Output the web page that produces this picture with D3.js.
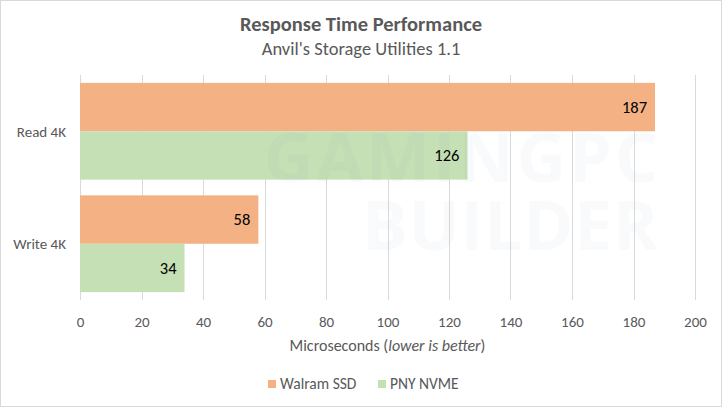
<!DOCTYPE html>
<meta charset="utf-8">
<style>
body { margin: 0; background: #fff; }
text { font-family: Carlito, "Liberation Sans Narrow", "Open Sans", sans-serif; fill: #595959; }
.grid line { stroke: #d9d9d9; }
</style>
<svg width="722" height="407"></svg>
<script src="https://d3js.org/d3.v7.min.js"></script>
<script>

var categories = ["Read 4K", "Write 4K"];
var seriesNames = ["Walram SSD", "PNY NVME"];
var walram = [187, 58];
var pny = [126, 34];
var xTicks = [0, 20, 40, 60, 80, 100, 120, 140, 160, 180, 200];
var colors = ["#f4b183", "#c5e0b4"];

var svg = d3.select("svg"),
    width = +svg.attr("width"),
    height = +svg.attr("height");

// chart border
svg.append("rect")
  .attr("x", 0.5).attr("y", 0.5)
  .attr("width", width - 1).attr("height", height - 1)
  .attr("fill", "#fff").attr("stroke", "#d9d9d9");

var plotTop = 75, plotBottom = 300, plotLeft = 80, plotRight = 695;

var x = d3.scaleLinear().domain([0, 200]).range([plotLeft, plotRight]);
var y = d3.scaleBand().domain(categories).range([plotTop, plotBottom])
  .paddingInner(0.14).paddingOuter(0.07);
var ySub = d3.scaleBand().domain(seriesNames).range([0, y.bandwidth()]);

// gridlines
svg.append("g").attr("class", "grid")
  .selectAll("line").data(xTicks).join("line")
  .attr("x1", d => Math.round(x(d)) + 0.5).attr("x2", d => Math.round(x(d)) + 0.5)
  .attr("y1", plotTop).attr("y2", plotBottom);

// title
svg.append("text").attr("x", width / 2).attr("y", 31)
  .attr("text-anchor", "middle").style("font-size", "20.5px").style("font-weight", "bold")
  .text("Response Time Performance");
svg.append("text").attr("x", width / 2).attr("y", 55)
  .attr("text-anchor", "middle").style("font-size", "18.5px")
  .text("Anvil's Storage Utilities 1.1");

var rows = categories.map(function(c, i) {
  return [{cat: c, s: seriesNames[0], v: walram[i]}, {cat: c, s: seriesNames[1], v: pny[i]}];
});
var flat = rows.flat();

svg.append("g").selectAll("rect").data(flat).join("rect")
  .attr("x", x(0))
  .attr("y", d => y(d.cat) + ySub(d.s))
  .attr("width", d => x(d.v) - x(0))
  .attr("height", ySub.bandwidth())
  .attr("fill", d => colors[seriesNames.indexOf(d.s)]);

// watermark
var wm = svg.append("g").style("pointer-events", "none");
wm.append("text").attr("x", 461).attr("y", 182).attr("text-anchor", "middle")
  .style("font-family", "'Open Sans', sans-serif").style("font-weight", "bold").style("font-size", "68px")
  .style("fill", "#7c93bf").style("fill-opacity", 0.045).attr("textLength", 394)
  .text("GAMINGPC");
wm.append("text").attr("x", 510).attr("y", 250).attr("text-anchor", "middle")
  .style("font-family", "'Open Sans', sans-serif").style("font-weight", "bold").style("font-size", "68px")
  .style("fill", "#7c93bf").style("fill-opacity", 0.045).attr("textLength", 296)
  .text("BUILDER");

// data labels
svg.append("g").selectAll("text").data(flat).join("text")
  .attr("x", d => x(d.v) - 8)
  .attr("y", d => y(d.cat) + ySub(d.s) + ySub.bandwidth() / 2)
  .attr("dy", "0.35em").attr("text-anchor", "end")
  .style("font-size", "16.5px").style("fill", "#000")
  .text(d => d.v);

// category axis
svg.append("g").selectAll("text").data(categories).join("text")
  .attr("x", 66).attr("y", d => y(d) + y.bandwidth() / 2)
  .attr("dy", "0.35em").attr("text-anchor", "end")
  .style("font-size", "15px")
  .text(d => d);

// x axis
var xAxis = svg.append("g").attr("transform", "translate(0," + plotBottom + ")")
  .call(d3.axisBottom(x).tickValues(xTicks).tickSize(0).tickPadding(16));
xAxis.select(".domain").remove();
xAxis.selectAll("text").style("font-size", "15px").style("font-family", null).attr("fill", null);

var xt = svg.append("text").attr("x", (plotLeft + plotRight) / 2).attr("y", 351)
  .attr("text-anchor", "middle").style("font-size", "16px");
xt.append("tspan").text("Microseconds (");
xt.append("tspan").style("font-style", "italic").text("lower is better");
xt.append("tspan").text(")");

// legend
var legend = svg.append("g").attr("transform", "translate(268,384)");
var lx = [0, 110];
seriesNames.forEach(function(s, i) {
  legend.append("rect").attr("x", lx[i]).attr("y", -4).attr("width", 8).attr("height", 8)
    .attr("fill", colors[i]);
  legend.append("text").attr("x", lx[i] + 12).attr("y", 0).attr("dy", "0.35em")
    .style("font-size", "15.5px").text(s);
});

</script>
